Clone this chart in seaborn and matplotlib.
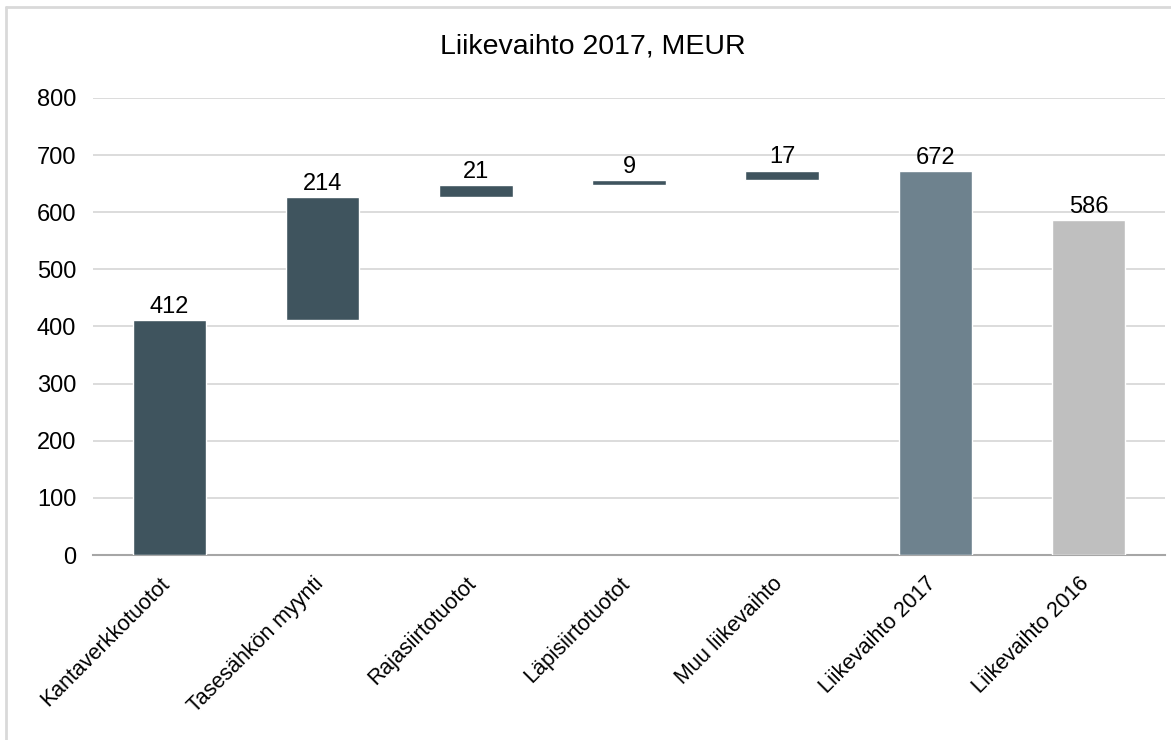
import matplotlib
matplotlib.use("Agg")
from matplotlib import pyplot as plt
from matplotlib.lines import Line2D
from matplotlib.transforms import ScaledTranslation
import pandas as pd
import seaborn as sns

categories = ["Kantaverkkotuotot", "Tasesähkön myynti", "Rajasiirtotuotot",
              "Läpisiirtotuotot", "Muu liikevaihto", "Liikevaihto 2017", "Liikevaihto 2016"]
values = [412, 214, 21, 9, 17, 672, 586]
is_step = [True, True, True, True, True, False, False]
colors = ["#3f545e", "#3f545e", "#3f545e", "#3f545e", "#3f545e", "#6e828e", "#bfbfbf"]

# waterfall bases: steps start where the previous step ended, totals start at 0
bottoms = []
running = 0
for v, step in zip(values, is_step):
    if step:
        bottoms.append(running)
        running += v
    else:
        bottoms.append(0)

df = pd.DataFrame({"cat": categories, "val": values})

sns.set_style("white")
plt.rcParams["font.family"] = ["Liberation Sans", "DejaVu Sans"]

fig = plt.figure(figsize=(11.71, 7.4), dpi=100)
ax = fig.add_axes([0.0794, 0.25, 0.9155, 0.6176])

sns.barplot(data=df, x="cat", y="val", hue="cat", palette=colors, legend=False,
            width=0.48, saturation=1, ax=ax, zorder=3)
for patch, b in zip(ax.patches, bottoms):
    patch.set_y(b)
for cont, v in zip(ax.containers, values):
    ax.bar_label(cont, labels=[str(v)], padding=1.5, fontsize=17, color="black")

ax.set_ylim(0, 800)
ax.set_yticks(range(0, 801, 100))
ax.yaxis.grid(True, color="#d9d9d9", linewidth=1.3, zorder=0)
ax.set_axisbelow(True)
ax.set_xlabel("")
ax.set_ylabel("")
for s in ["left", "right", "top"]:
    ax.spines[s].set_visible(False)
ax.spines["bottom"].set_color("#a6a6a6")
ax.spines["bottom"].set_linewidth(1.5)
ax.tick_params(axis="y", length=0, pad=12, labelsize=17, labelcolor="black")
ax.tick_params(axis="x", length=0, pad=6, labelsize=15.5, labelcolor="black")
shift = ScaledTranslation(-0.10, -0.10, fig.dpi_scale_trans)
for lbl in ax.get_xticklabels():
    lbl.set_rotation(45)
    lbl.set_ha("right")
    lbl.set_rotation_mode("anchor")
    lbl.set_transform(lbl.get_transform() + shift)

fig.text(0.506, 0.937, "Liikevaihto 2017, MEUR", ha="center", va="center",
         fontsize=20.5, color="black")
fig.lines.append(Line2D([0.005, 0.005], [0, 0.991], transform=fig.transFigure,
                        color="#d9d9d9", linewidth=2))
fig.lines.append(Line2D([0.005, 1], [0.991, 0.991], transform=fig.transFigure,
                        color="#d9d9d9", linewidth=2))

fig.savefig("out.png", dpi=100)
